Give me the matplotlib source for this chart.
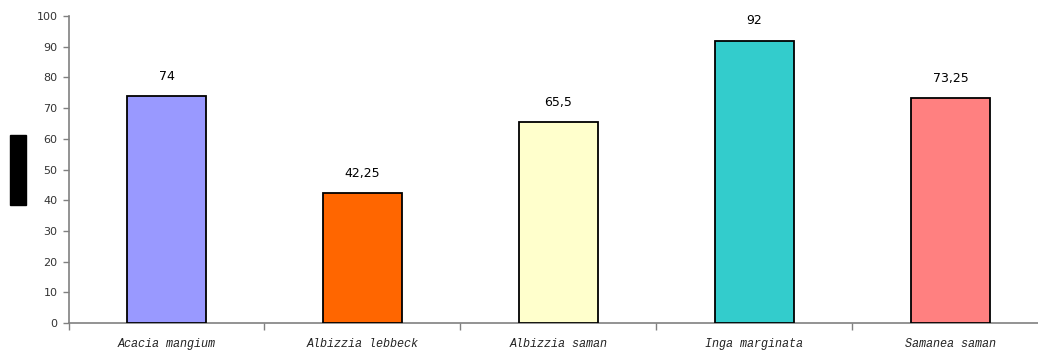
import numpy as np
import matplotlib
matplotlib.use("Agg")
from matplotlib import pyplot as plt
from matplotlib.patches import Rectangle

species = ["Acacia mangium", "Albizzia lebbeck", "Albizzia saman",
           "Inga marginata", "Samanea saman"]
values = [74, 42.25, 65.5, 92, 73.25]
value_labels = ["74", "42,25", "65,5", "92", "73,25"]
colors = ["#9999FF", "#FF6600", "#FFFFCC", "#33CCCC", "#FF8080"]

fig = plt.figure(figsize=(10.38, 3.52), dpi=100)
ax = fig.add_axes([0.066, 0.0824, 0.944, 0.872])

x = np.arange(len(species))
ax.bar(x, values, width=0.4, color=colors, edgecolor="black", linewidth=1.3, zorder=3)
for xi, v, lab in zip(x, values, value_labels):
    ax.text(xi, v + 4.3, lab, ha="center", va="bottom", fontsize=9,
            family="DejaVu Sans", color="black")

ax.set_xlim(-0.5, len(species) - 0.5)
ax.set_ylim(0, 100)
ax.set_yticks(np.arange(0, 101, 10))
ax.tick_params(axis="y", length=4, width=1, color="#808080", labelsize=8,
               labelcolor="#333333", pad=4)

# category names sit between the boundary ticks
ax.set_xticks(np.arange(len(species) + 1) - 0.5)
ax.set_xticklabels([])
ax.set_xticks(x, minor=True)
ax.set_xticklabels(species, minor=True, family="Liberation Mono", style="italic",
                   fontsize=8.5, color="#222222")
ax.tick_params(axis="x", which="major", length=5, width=1, color="#808080")
ax.tick_params(axis="x", which="minor", length=0, pad=11)

for side in ["top", "right"]:
    ax.spines[side].set_visible(False)
for side in ["left", "bottom"]:
    ax.spines[side].set_color("#808080")
    ax.spines[side].set_linewidth(1.2)

fig.patches.append(Rectangle((10 / 1038, 1 - 205 / 352), 16 / 1038, 70 / 352,
                             transform=fig.transFigure, color="black"))

fig.savefig("out.png", dpi=100)
